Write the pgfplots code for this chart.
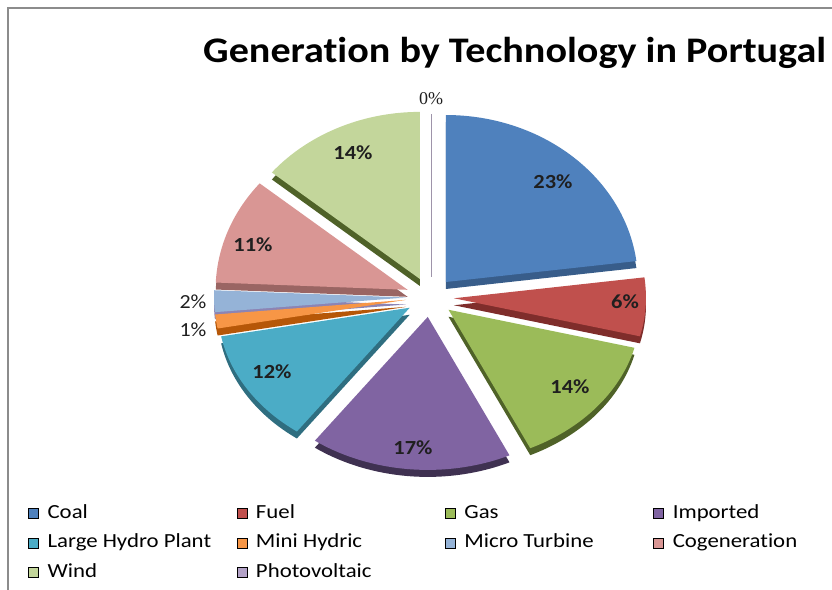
\documentclass[border=0pt]{standalone}
\usepackage{pgfplots}
\pgfplotsset{compat=1.18}
\usepackage{fontspec}
\setmainfont{Carlito}[Ligatures=NoCommon]
\newfontfamily\serifnum{Liberation Serif}
\definecolor{coal}{HTML}{4F81BD}\definecolor{coalD}{HTML}{385D8A}
\definecolor{fuel}{HTML}{C0504D}\definecolor{fuelD}{HTML}{7F2D2B}
\definecolor{gas}{HTML}{9BBB59}\definecolor{gasD}{HTML}{4F6228}
\definecolor{impo}{HTML}{8064A2}\definecolor{impoD}{HTML}{3F3151}
\definecolor{hydro}{HTML}{4BACC6}\definecolor{hydroD}{HTML}{2F6E80}
\definecolor{mini}{HTML}{F79646}\definecolor{miniD}{HTML}{B65708}
\definecolor{micro}{HTML}{95B3D7}\definecolor{microD}{HTML}{8C84B4}
\definecolor{cogen}{HTML}{D99694}\definecolor{cogenD}{HTML}{9A6563}
\definecolor{wind}{HTML}{C3D69B}\definecolor{windD}{HTML}{4F6228}
\definecolor{photo}{HTML}{B3A2C7}
% slice: start angle, end angle, cx, cy, face colour, dark colour
\newcommand{\slice}[6]{%
  \addplot[fill=#6, draw=none, domain=#1:#2, samples=50, variable=\t, forget plot]
    ({#3+192*cos(\t)}, {#4-7+(sin(\t)>=0?167:153)*sin(\t)}) -- (axis cs:#3,#4-7) -- cycle;
  \addplot[fill=#5, draw=none, domain=#1:#2, samples=50, variable=\t, forget plot]
    ({#3+192*cos(\t)}, {#4+(sin(\t)>=0?167:153)*sin(\t)}) -- (axis cs:#3,#4) -- cycle;
}
\newcommand{\lab}[1]{\scalebox{1.12}[1]{\fontsize{20bp}{22bp}\selectfont\bfseries #1}}
\newcommand{\leg}[1]{\makebox[189bp][l]{\scalebox{1.14}[1]{\fontsize{20bp}{22bp}\selectfont #1}}}
\begin{document}
\begin{tikzpicture}
\begin{axis}[
  scale only axis, width=832bp, height=590bp,
  xmin=0, xmax=832, ymin=0, ymax=590,
  hide axis, clip=false,
  legend image code/.code={\fill[#1] (0bp,-5bp) rectangle (10bp,5bp);},
  legend columns=4,
  legend style={draw=none, fill=none, at={(axis cs:28,86)}, anchor=north west,
    inner sep=0pt, row sep=11.5bp,
    nodes={inner sep=0pt, text height=14bp, text depth=4bp},
    /tikz/every odd column/.append style={column sep=9bp}},
]
% frame
\draw[black!45, line width=1.6bp] (axis cs:8,0) -- (axis cs:8,582) -- (axis cs:840,582);
% slices, back to front
\slice{90}{140.4}{419.78}{311.10}{wind}{windD}
\slice{7.2}{90}{445.9}{308.0}{coal}{coalD}
\slice{140.4}{177.5}{407.60}{300.18}{cogen}{cogenD}
\slice{177.5}{185.5}{406.01}{292.48}{micro}{microD}
\slice{185.5}{190.8}{406.24}{290.16}{mini}{miniD}
\slice{-14.4}{7.2}{453.95}{291.74}{fuel}{fuelD}
\slice{-169.2}{-126}{409.74}{282.28}{hydro}{hydroD}
\slice{-64.8}{-14.4}{448.5}{280.25}{gas}{gasD}
\slice{-126}{-64.8}{427.74}{273.09}{impo}{impoD}
% photovoltaic (0%)
\addplot[photo!60!gray, line width=0.8bp, forget plot] coordinates {(431,313) (431,476)};
% legend
\addlegendimage{fill=coal}\addlegendentry{\leg{Coal}}
\addlegendimage{fill=fuel}\addlegendentry{\leg{Fuel}}
\addlegendimage{fill=gas}\addlegendentry{\leg{Gas}}
\addlegendimage{fill=impo}\addlegendentry{\leg{Imported}}
\addlegendimage{fill=hydro}\addlegendentry{\leg{Large Hydro Plant}}
\addlegendimage{fill=mini}\addlegendentry{\leg{Mini Hydric}}
\addlegendimage{fill=micro}\addlegendentry{\leg{Micro Turbine}}
\addlegendimage{fill=cogen}\addlegendentry{\leg{Cogeneration}}
\addlegendimage{fill=wind}\addlegendentry{\leg{Wind}}
\addlegendimage{fill=photo}\addlegendentry{\leg{Photovoltaic}}
% labels
\begin{scope}[text=black!88]
\node at (axis cs:553,408) {\lab{23\%}};
\node at (axis cs:625,288) {\lab{6\%}};
\node at (axis cs:570,203) {\lab{14\%}};
\node at (axis cs:413,142) {\lab{17\%}};
\node at (axis cs:272,218) {\lab{12\%}};
\node at (axis cs:253,345) {\lab{11\%}};
\node at (axis cs:353,437) {\lab{14\%}};
\node at (axis cs:193,288) {\scalebox{1.1}[1]{\fontsize{20bp}{22bp}\selectfont 2\%}};
\node at (axis cs:193,260) {\scalebox{1.1}[1]{\fontsize{20bp}{22bp}\selectfont 1\%}};
\node at (axis cs:431,491) {\fontsize{18bp}{20bp}\selectfont\serifnum 0\%};
\end{scope}
% title
\node[anchor=base west, inner sep=0pt] at (axis cs:203,527)
  {\scalebox{1.115}[1]{\fontsize{36bp}{40bp}\selectfont\bfseries Generation by Technology in Portugal}};
\end{axis}
\pgfresetboundingbox
\path (0,0) rectangle (832bp,590bp);
\end{tikzpicture}
\end{document}
